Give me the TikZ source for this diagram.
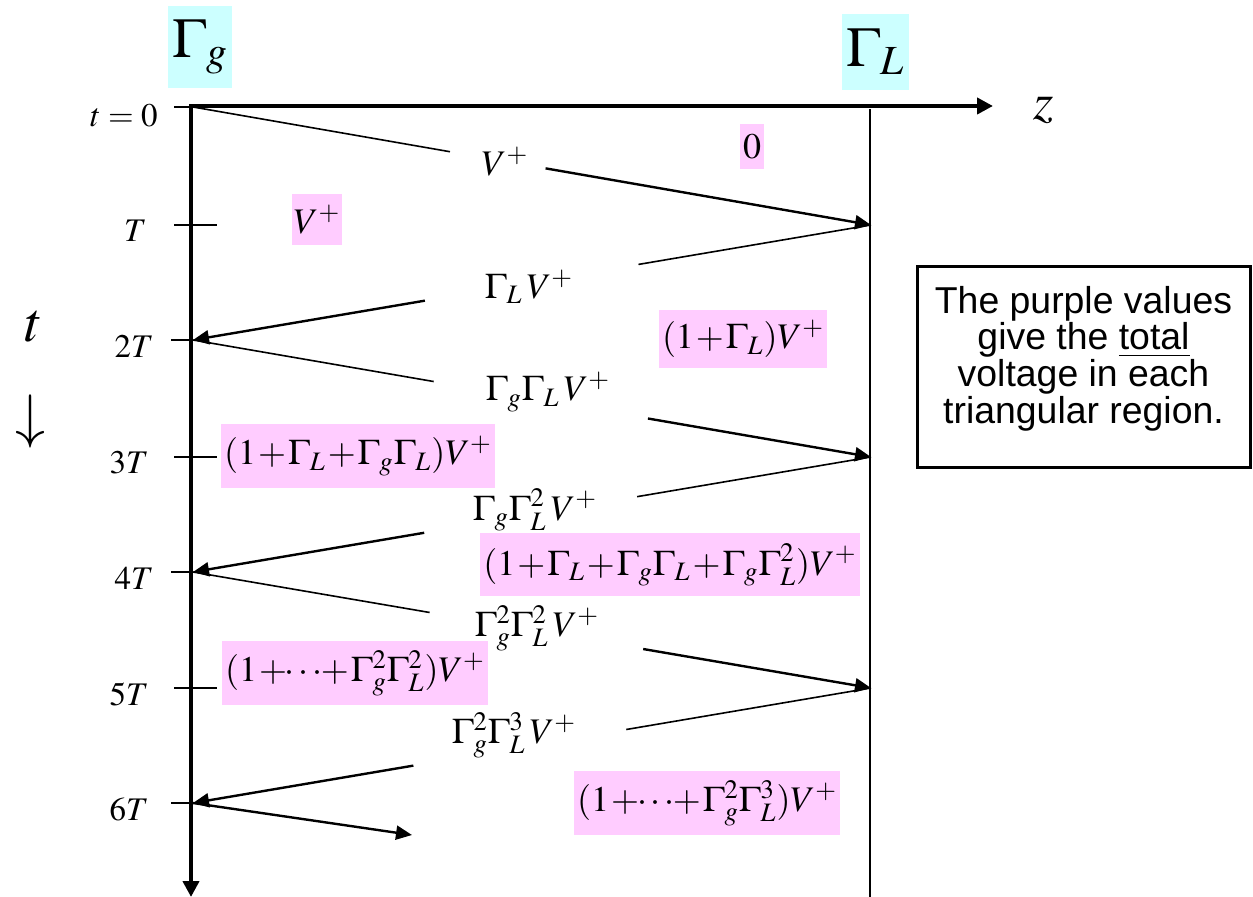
\documentclass[tikz,border=0pt]{standalone}
\usepackage{mathptmx}
\usepackage[no-math]{fontspec}
\newfontfamily\notefont{Liberation Sans}
\usetikzlibrary{arrows.meta,calc}
\definecolor{totalpink}{RGB}{255,204,255}
\definecolor{gammacyan}{RGB}{204,255,255}
\medmuskip=1mu plus 1mu minus 1mu

\begin{document}
\begin{tikzpicture}[x=0.5pt, y=-0.5pt,
    mainaxis/.style={line width=2pt, {Triangle[length=8pt,width=8pt]}-{Triangle[length=8pt,width=8pt]}},
    half/.style={line width=0.8pt},
    hit/.style={line width=1.2pt, -{Triangle[length=8pt,width=7pt]}},
    tickmark/.style={line width=0.6pt},
    ticklab/.style={anchor=east, inner sep=0pt, font=\fontsize{16.5}{20}\selectfont},
    wave/.style={inner sep=0pt, font=\fontsize{18}{22}\selectfont},
    total/.style={fill=totalpink, inner xsep=1.5pt, minimum height=32pt, font=\fontsize{18}{22}\selectfont},
    refl/.style={fill=gammacyan, inner sep=0pt, font=\fontsize{28}{32}\selectfont}]
    \useasboundingbox (0,0) rectangle (1253,897);
    % ---- axes and the load end
    \coordinate (o) at (191,106);
    \coordinate (zend) at (993,106);
    \coordinate (tend) at (191,897);
    \draw[mainaxis] (tend) -- (o) -- (zend);
    \coordinate (ltop) at (870,109);
    \coordinate (lbot) at (870,897);
    \draw[line width=1pt] (ltop) -- (lbot);
    \node[refl, minimum width=32pt, minimum height=41pt] (rg) at (200,47) {$\Gamma_{g}$};
    \node[refl, minimum width=33.5pt, minimum height=38pt] (rl) at (875.5,52) {$\Gamma_{L}$};
    \node[font=\fontsize{26}{30}\selectfont] (zlab) at (1044,110) {$z$};
    \node[font=\fontsize{28}{32}\selectfont] (tlab) at (34,327) {$t$};
    \node[font=\fontsize{30}{34}\selectfont] (tdir) at (31,421) {$\downarrow$};
    % ---- time ticks
    \foreach \y in {107,225,457,688}
      \draw[tickmark] (174,\y) -- (217,\y);
    \foreach \y in {340,572,803}
      \draw[tickmark] (171,\y) -- (193,\y);
    \foreach \y/\lab/\lx [count=\i] in {116/{t=0}/158, 231/T/147, 346/2T/154, 463/3T/149,
        578/4T/154, 694/5T/149, 809/6T/149}
      \node[ticklab] (tk\i) at (\lx,\y) {$\lab$};
    % ---- the bouncing wave
    \coordinate (g0) at (193,107);
    \coordinate (l1) at (871,225);
    \coordinate (g2) at (193,340);
    \coordinate (l3) at (871,457);
    \coordinate (g4) at (193,572);
    \coordinate (l5) at (871,688);
    \coordinate (g6) at (193,803);
    \coordinate (out) at (412,835);
    \foreach \a/\b/\p/\q in {g0/l1/0.379/0.520, l1/g2/0.343/0.658, g2/l3/0.355/0.671,
        l3/g4/0.345/0.659, g4/l5/0.349/0.664, l5/g6/0.361/0.675} {
      \draw[half] (\a) -- ($(\a)!\p!(\b)$);
      \draw[hit] ($(\a)!\q!(\b)$) -- (\b);
    }
    \draw[hit] (g6) -- (out);
    \node[wave] (w1) at (505,162) {$V^{+}$};
    \node[wave] (w2) at (529,287) {$\Gamma_{L}\,V^{+}$};
    \node[wave] (w3) at (548,392) {$\Gamma_{g}\Gamma_{L}\,V^{+}$};
    \node[wave] (w4) at (535,510) {$\Gamma_{g}\Gamma_{L}^{2}\,V^{+}$};
    \node[wave] (w5) at (537,628) {$\Gamma_{g}^{2}\Gamma_{L}^{2}\,V^{+}$};
    \node[wave] (w6) at (514,735) {$\Gamma_{g}^{2}\Gamma_{L}^{3}\,V^{+}$};
    % ---- total voltage in each region
    \node[total, minimum height=22.5pt] (v0) at (752,147) {$0$};
    \node[total, inner xsep=1pt, minimum height=25.5pt] (v1) at (317,220) {$V^{+}$};
    \node[total, minimum height=29pt] (v2) at (743,339) {$(1+\Gamma_{L})V^{+}$};
    \node[total] (v3) at (358,456) {$(1+\Gamma_{L}+\Gamma_{g}\Gamma_{L})V^{+}$};
    \node[total, minimum height=31.5pt] (v4) at (670,565) {$(1+\Gamma_{L}+\Gamma_{g}\Gamma_{L}+\Gamma_{g}\Gamma_{L}^{2})V^{+}$};
    \node[total] (v5) at (355,673) {$(1+\!\cdots\!+\Gamma_{g}^{2}\Gamma_{L}^{2})V^{+}$};
    \node[total] (v6) at (707,803) {$(1+\!\cdots\!+\Gamma_{g}^{2}\Gamma_{L}^{3})V^{+}$};
    % ---- the note
    \node[draw, line width=1.5pt, minimum width=166.5pt, minimum height=100.5pt] (note) at (1083.5,367.5) {};
    \node[align=center, inner sep=0pt, font=\notefont\fontsize{18.7}{18.3}\selectfont] (notetext)
      at ($(note.center)+(0,-9)$) {The purple values\\give the \underline{total}\\voltage in each\\triangular region.};
\end{tikzpicture}
\end{document}
